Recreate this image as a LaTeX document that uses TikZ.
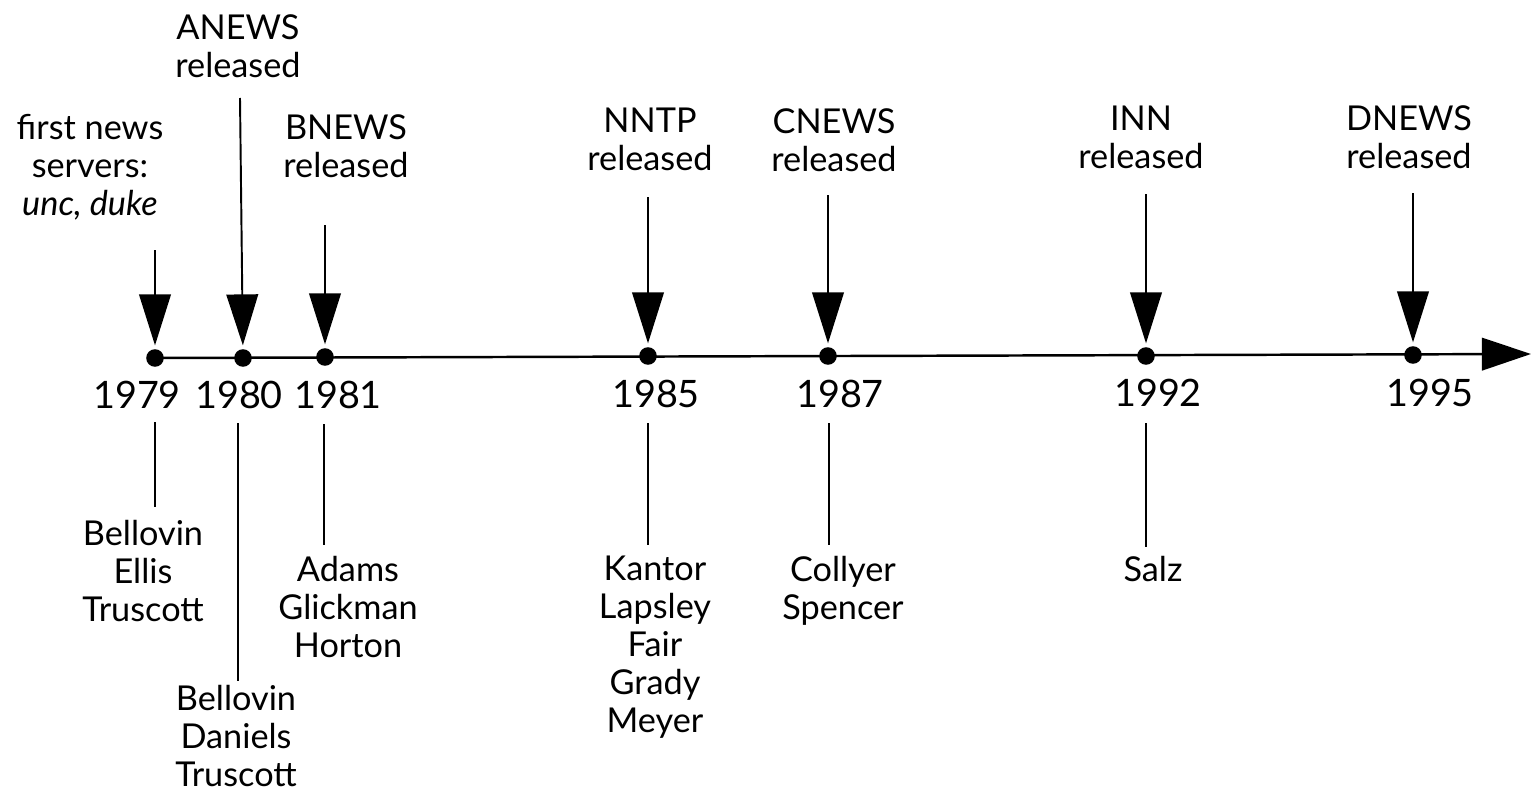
\documentclass[tikz,border=0pt]{standalone}
\usepackage{fontspec}
\setmainfont{Lato}
\usetikzlibrary{arrows.meta}

\begin{document}
\begin{tikzpicture}[x=0.02cm,y=-0.02cm,
  dot/.style={circle,fill=black,inner sep=0pt,minimum size=10pt},
  lbl/.style={align=center,inner sep=0pt,anchor=north},
  year/.style={lbl,font=\fontsize{21.5}{24}\selectfont},
  event/.style={line width=1.1pt,shorten >=2pt,-{Triangle[width=18pt,length=29pt]}},
  axis/.style={line width=1.4pt,-{Triangle[width=18.5pt,length=28pt]}},
  tick/.style={line width=0.9pt}]
\fontsize{19.5}{21.6}\selectfont
\useasboundingbox (0,0) rectangle (1532,794);
% dots on the time line
\node[dot] (d1979) at (155,358) {};
\node[dot] (d1980) at (243,358) {};
\node[dot] (d1981) at (325,357) {};
\node[dot] (d1985) at (648,356) {};
\node[dot] (d1987) at (828,356) {};
\node[dot] (d1992) at (1146,356) {};
\node[dot] (d1995) at (1413,355) {};
\coordinate (tip) at (1531,354);
\draw[axis] (d1979.center) -- (tip);
% labels above
\node[lbl] (t1979) at (90,114) {first news\\servers:\\\textit{unc, duke}};
\node[lbl] (t1980) at (238,14) {ANEWS\\released};
\node[lbl] (t1981) at (346,114) {BNEWS\\released};
\node[lbl] (t1985) at (650,108) {NNTP\\released};
\node[lbl] (t1987) at (834,108) {CNEWS\\released};
\node[lbl] (t1992) at (1141,106) {INN\\released};
\node[lbl] (t1995) at (1409,105) {DNEWS\\released};
\coordinate (s1979) at (155,250);
\coordinate (s1980) at (240,98);
\coordinate (s1981) at (325,225);
\coordinate (s1985) at (648,197);
\coordinate (s1987) at (828,195);
\coordinate (s1992) at (1146,194);
\coordinate (s1995) at (1413,193);
\draw[event] (s1979) -- (d1979);
\draw[event] (s1980) -- (d1980);
\draw[event] (s1981) -- (d1981);
\draw[event] (s1985) -- (d1985);
\draw[event] (s1987) -- (d1987);
\draw[event] (s1992) -- (d1992);
\draw[event] (s1995) -- (d1995);
% years
\node[year] (y1979) at (137,381) {1979};
\node[year] (y1980) at (239,381) {1980};
\node[year] (y1981) at (338,381) {1981};
\node[year] (y1985) at (656,380) {1985};
\node[year] (y1987) at (840,380) {1987};
\node[year] (y1992) at (1158,379) {1992};
\node[year] (y1995) at (1430,379) {1995};
% names below
\node[lbl] (n1979) at (143,520) {Bellovin\\Ellis\\Truscott};
\node[lbl] (n1980) at (236,685) {Bellovin\\Daniels\\Truscott};
\node[lbl] (n1981) at (348,556) {Adams\\Glickman\\Horton};
\node[lbl] (n1985) at (655,556) {Kantor\\Lapsley\\Fair\\Grady\\Meyer};
\node[lbl] (n1987) at (843,556) {Collyer\\Spencer};
\node[lbl] (n1992) at (1153,556) {Salz};
\coordinate (b1979) at (155,422);
\coordinate (b1980) at (238,423);
\coordinate (b1981) at (324,424);
\coordinate (b1985) at (648,423);
\coordinate (b1987) at (829,423);
\coordinate (b1992) at (1146,423);
\draw[tick] (b1979) -- (b1979 |- 0,507);
\draw[tick] (b1980) -- (b1980 |- 0,681);
\draw[tick] (b1981) -- (b1981 |- 0,545);
\draw[tick] (b1985) -- (b1985 |- 0,545);
\draw[tick] (b1987) -- (b1987 |- 0,545);
\draw[tick] (b1992) -- (b1992 |- 0,547);
\end{tikzpicture}
\end{document}
